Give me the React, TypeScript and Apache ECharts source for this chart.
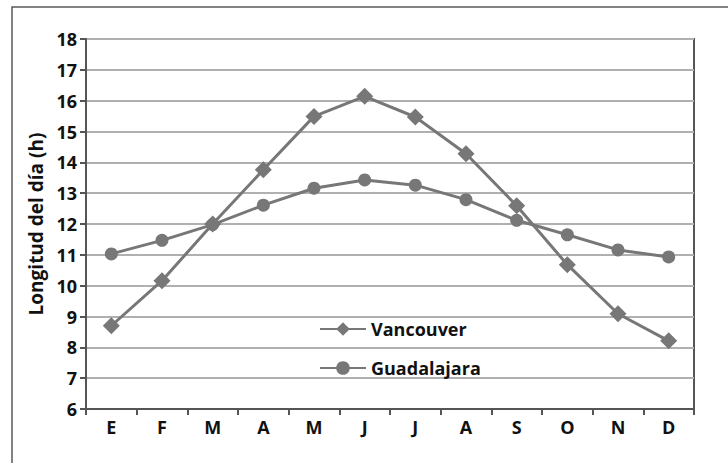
import React, { useEffect, useRef } from "react";
import * as echarts from "echarts";

const months = ["E", "F", "M", "A", "M", "J", "J", "A", "S", "O", "N", "D"];
const vancouver = [8.7, 10.16, 12.0, 13.76, 15.49, 16.14, 15.47, 14.28, 12.59, 10.68, 9.09, 8.21];
const guadalajara = [11.03, 11.47, 11.98, 12.61, 13.16, 13.43, 13.26, 12.79, 12.12, 11.65, 11.16, 10.93];
const yMin = 6;
const yMax = 18;
const yStep = 1;

const FONT = "Open Sans";
const LINE = "#777777";

export default function App() {
  const ref = useRef<HTMLDivElement>(null);

  useEffect(() => {
    if (!ref.current) return;
    const chart = echarts.init(ref.current, undefined, { renderer: "svg" });
    chart.setOption({
      animation: false,
      backgroundColor: "#ffffff",
      graphic: [
        {
          type: "rect",
          shape: { x: 12, y: 7, width: 760, height: 500 },
          style: { fill: "none", stroke: "#5a5a5a", lineWidth: 1.5 },
          silent: true,
          z: -1,
        },
      ],
      grid: {
        left: 86,
        right: 34,
        top: 39,
        bottom: 54,
        show: true,
        borderColor: "#555555",
        borderWidth: 2,
        backgroundColor: "transparent",
      },
      legend: {
        orient: "vertical",
        left: 314,
        top: 315,
        itemWidth: 46,
        itemHeight: 17,
        itemGap: 21,
        textStyle: {
          fontFamily: FONT,
          fontSize: 18,
          fontWeight: "bold",
          color: "#111",
          lineHeight: 16,
        },
        data: ["Vancouver", "Guadalajara"],
      },
      xAxis: {
        type: "category",
        data: months,
        axisLine: { lineStyle: { color: "#555555", width: 2 } },
        axisTick: { show: true, length: 6, lineStyle: { color: "#555555", width: 2 } },
        axisLabel: {
          fontFamily: FONT,
          fontSize: 18,
          fontWeight: "bold",
          color: "#111",
          margin: 9,
        },
        splitLine: { show: false },
      },
      yAxis: {
        type: "value",
        min: yMin,
        max: yMax,
        interval: yStep,
        name: "Longitud del día (h)",
        nameLocation: "middle",
        nameGap: 31,
        nameTextStyle: { fontFamily: FONT, fontSize: 19, fontWeight: "bold", color: "#111" },
        axisLine: { show: true, lineStyle: { color: "#555555", width: 2 } },
        axisTick: { show: true, length: 6, lineStyle: { color: "#555555", width: 2 } },
        axisLabel: {
          fontFamily: FONT,
          fontSize: 18,
          fontWeight: "bold",
          color: "#111",
          margin: 9,
        },
        splitLine: { show: true, lineStyle: { color: "#b0b0b0", width: 2 } },
      },
      series: [
        {
          name: "Vancouver",
          type: "line",
          data: vancouver,
          symbol: "diamond",
          symbolSize: 17,
          lineStyle: { color: LINE, width: 3 },
          itemStyle: { color: LINE },
        },
        {
          name: "Guadalajara",
          type: "line",
          data: guadalajara,
          symbol: "circle",
          symbolSize: 13,
          lineStyle: { color: LINE, width: 3 },
          itemStyle: { color: LINE },
        },
      ],
    });
    return () => chart.dispose();
  }, []);

  return <div ref={ref} style={{ width: 728, height: 463, position: "absolute", left: 0, top: 0 }} />;
}
